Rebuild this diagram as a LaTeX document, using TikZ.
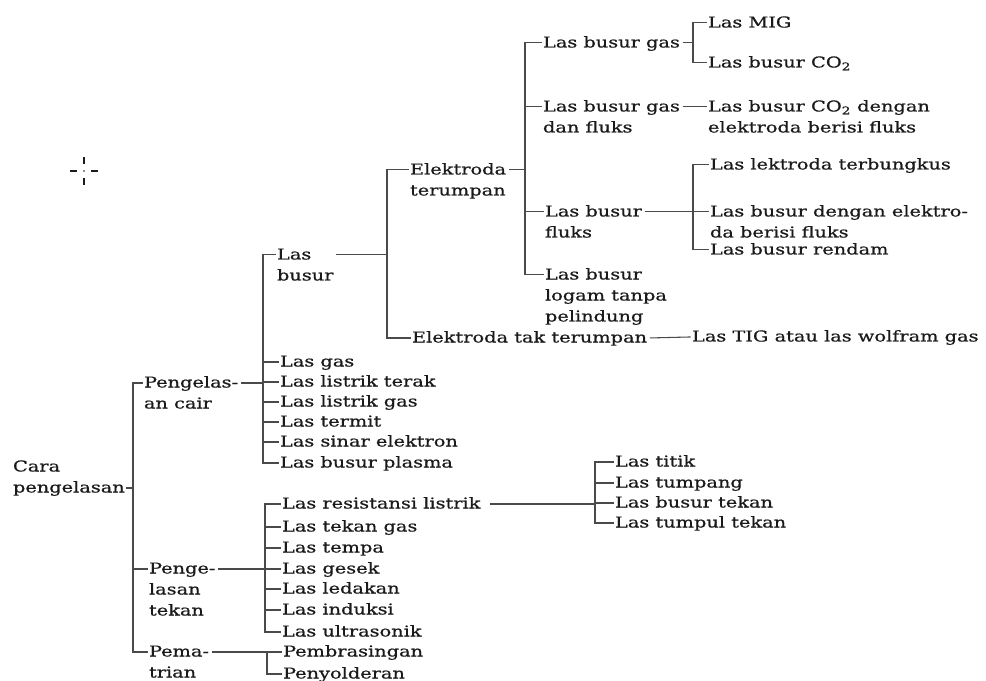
\documentclass[tikz,border=0pt]{standalone}
\usepackage{fontspec}
\setmainfont{DejaVu Serif}[FakeStretch=1.29,FakeBold=0.7]
\definecolor{ink}{HTML}{1A1A1A}
\definecolor{wire}{HTML}{4A4A4A}
\newcommand\ml[1]{\vtop{\halign{##\hfil\cr#1\crcr}}}
\tikzset{
  txt/.style={anchor=base west, inner sep=0pt, outer sep=0pt, text=ink,
    font=\fontsize{11.25}{15.75}\selectfont},
  ln/.style={draw=wire, line width=0.8pt},
  crossmark/.style={draw=ink, line width=1.1pt},
}
% name, x, y (centre of first line), text
\newcommand\tn[4]{%
  \node[txt] (#1) at (#2,#3+4.5) {\ml{#4}};
  \coordinate (#1-w) at ([xshift=-1pt,yshift=3.4pt]#1.base west);
  \coordinate (#1-e) at ([xshift=2pt,yshift=3.4pt]#1.base east);}
\begin{document}
\begin{tikzpicture}[x=0.75pt,y=-0.75pt]
\useasboundingbox (0,0) rectangle (986,681);

% bus positions
\coordinate (b0) at (133,0);
\coordinate (b1) at (263,0);
\coordinate (b2) at (387,0);
\coordinate (b3) at (525,0);
\coordinate (b4) at (693,0);
\coordinate (b5) at (693,0);
\coordinate (b6) at (265,0);
\coordinate (b7) at (595,0);
\coordinate (b8) at (267,0);

% ---------- nodes ----------
\tn{root}{13}{467}{Cara\cr pengelasan}
\coordinate (root-e) at ([xshift=1pt,yshift=-12.35pt]root.base east);

\tn{cair}{144}{383}{Pengelas-\cr an cair}
\tn{tekan}{149}{569}{Penge-\cr lasan\cr tekan}
\tn{pema}{149}{652}{Pema-\cr trian}

\tn{lbusur}{277}{255}{Las\cr busur}
\tn{lgas}{280}{362}{Las gas}
\tn{lterak}{280}{382}{Las listrik terak}
\tn{llgas}{280}{402}{Las listrik gas}
\tn{ltermit}{280}{422}{Las termit}
\tn{lsinar}{280}{442}{Las sinar elektron}
\tn{lplasma}{280}{463}{Las busur plasma}

\tn{et}{410}{170}{Elektroda\cr terumpan}
\tn{ett}{412}{338}{Elektroda tak terumpan}

\tn{lbg}{543}{43}{Las busur gas}
\tn{lbgf}{543}{107}{Las busur gas\cr dan fluks}
\tn{lbf}{545}{212}{Las busur\cr fluks}
\tn{lbl}{545}{275}{Las busur\cr logam tanpa\cr pelindung}

\tn{mig}{708}{23}{Las MIG}
\tn{co2}{708}{63}{Las busur CO\textsubscript{2}}
\tn{co2f}{708}{107}{Las busur CO\textsubscript{2} dengan\cr elektroda berisi fluks}
\tn{lek}{710}{165}{Las lektroda terbungkus}
\tn{lbde}{710}{212}{Las busur dengan elektro-\cr da berisi fluks}
\tn{lrend}{710}{250}{Las busur rendam}
\tn{tig}{692}{337}{Las TIG atau las wolfram gas}

\tn{lres}{282}{504}{Las resistansi listrik}
\tn{ltg}{282}{527}{Las tekan gas}
\tn{ltempa}{282}{548}{Las tempa}
\tn{lgesek}{282}{569}{Las gesek}
\tn{lledak}{282}{589}{Las ledakan}
\tn{linduk}{282}{610}{Las induksi}
\tn{lultra}{282}{632}{Las ultrasonik}

\tn{titik}{615}{462}{Las titik}
\tn{tump}{615}{483}{Las tumpang}
\tn{lbt}{615}{503}{Las busur tekan}
\tn{ltt}{615}{523}{Las tumpul tekan}

\tn{pemb}{283}{652}{Pembrasingan}
\tn{peny}{283}{674}{Penyolderan}

% ---------- connectors ----------
% root
\draw[ln] (root-e) -- (root-e -| b0);
\draw[ln] (cair-w) -- (cair-w -| b0) -- (pema-w -| b0) -- (pema-w);
\draw[ln] (tekan-w -| b0) -- (tekan-w);

% pengelasan cair
\draw[ln] (cair-e) -- (cair-e -| b1);
\draw[ln] (lbusur-w) -- (lbusur-w -| b1) -- (lplasma-w -| b1) -- (lplasma-w);
\foreach \n in {lgas,lterak,llgas,ltermit,lsinar}
  \draw[ln] (\n-w -| b1) -- (\n-w);

% las busur
\draw[ln] (lbusur-e) -- (lbusur-e -| b2);
\draw[ln] (et-w) -- (et-w -| b2) -- (ett-w -| b2) -- (ett-w);

% elektroda terumpan
\draw[ln] (et-e) -- (et-e -| b3);
\draw[ln] (lbg-w) -- (lbg-w -| b3) -- (lbl-w -| b3) -- (lbl-w);
\foreach \n in {lbgf,lbf}
  \draw[ln] (\n-w -| b3) -- (\n-w);

% las busur gas
\draw[ln] (lbg-e) -- (lbg-e -| b4);
\draw[ln] (mig-w) -- (mig-w -| b4) -- (co2-w -| b4) -- (co2-w);

% las busur gas dan fluks
\draw[ln] (lbgf-e) -- (co2f-w);

% las busur fluks
\draw[ln] (lbf-e) -- (lbf-e -| b5);
\draw[ln] (lek-w) -- (lek-w -| b5) -- (lrend-w -| b5) -- (lrend-w);
\draw[ln] (lbde-w -| b5) -- (lbde-w);

% elektroda tak terumpan
\draw[ln] (ett-e) -- (tig-w);

% pengelasan tekan
\draw[ln] (tekan-e) -- (tekan-e -| b6);
\draw[ln] (lres-w) -- (lres-w -| b6) -- (lultra-w -| b6) -- (lultra-w);
\foreach \n in {ltg,ltempa,lgesek,lledak,linduk}
  \draw[ln] (\n-w -| b6) -- (\n-w);

% las resistansi listrik
\draw[ln] ([xshift=5pt]lres-e) -- (lres-e -| b7);
\draw[ln] (titik-w) -- (titik-w -| b7) -- (ltt-w -| b7) -- (ltt-w);
\foreach \n in {tump,lbt}
  \draw[ln] (\n-w -| b7) -- (\n-w);

% pematrian
\draw[ln] (pema-e) -- (pema-e -| b8);
\draw[ln] (pemb-w) -- (pemb-w -| b8) -- (peny-w -| b8) -- (peny-w);

% crosshair mark
\draw[crossmark] (70,171) -- (77,171) (91,171) -- (98,171)
  (84,157) -- (84,164) (84,178) -- (84,185);
\fill[ink] (84,171) circle (0.6pt);
\end{tikzpicture}
\end{document}
